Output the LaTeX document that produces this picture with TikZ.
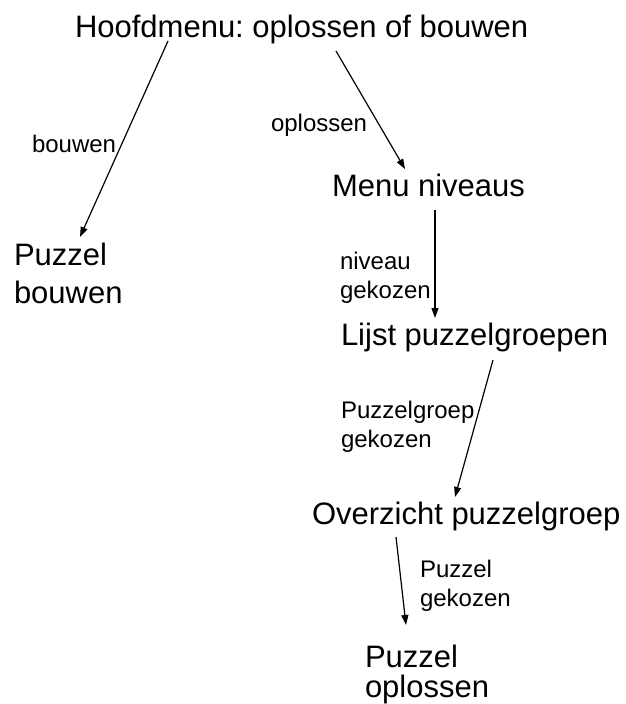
\documentclass[tikz,border=0pt]{standalone}
\usepackage{fontspec}
\setmainfont{Liberation Sans}
\usetikzlibrary{arrows.meta}
\begin{document}
\frenchspacing
\begin{tikzpicture}[x=1pt,y=-1pt,
  state/.style={inner sep=0pt,outer sep=0pt,font=\fontsize{31}{38}\selectfont,align=left},
  lbl/.style={inner sep=0pt,outer sep=0pt,font=\fontsize{24}{29}\selectfont,align=left},
  arr/.style={draw=black,line width=1.2pt,-{Triangle[length=10pt,width=7pt]}}]
\useasboundingbox[fill=white] (0,0) rectangle (625,704);
% states
\node[state,anchor=base west] (hm) at (75,37) {Hoofdmenu: oplossen of bouwen};
\node[state,anchor=north west] (pb) at (14,243) {Puzzel\\bouwen};
\node[state,anchor=base west] (mn) at (332,196) {Menu niveaus};
\node[state,anchor=base west] (lp) at (341,345) {Lijst puzzelgroepen};
\node[state,anchor=base west] (op) at (312,524) {Overzicht puzzelgroep};
\node[state,anchor=north west,font=\fontsize{31}{30.5}\selectfont] (po) at (365,645) {Puzzel\\oplossen};
% labels
\node[lbl,anchor=base west] (lb1) at (32,152) {bouwen};
\node[lbl,anchor=base west] (lb2) at (271,131) {oplossen};
\node[lbl,anchor=north west] (lb3) at (340,252) {niveau\\gekozen};
\node[lbl,anchor=north west] (lb4) at (341,401) {Puzzelgroep\\gekozen};
\node[lbl,anchor=north west] (lb5) at (420,560) {Puzzel\\gekozen};
% connectors
\draw[arr] ([shift={(93,4)}]hm.base west) -- ([shift={(66,-6)}]pb.north west);
\draw[arr] ([shift={(261,14)}]hm.base west) -- ([shift={(73,-27)}]mn.base west);
\draw[arr] ([shift={(103,14)}]mn.base west) -- ([shift={(94,-27)}]lp.base west);
\draw[arr] ([shift={(152,15)}]lp.base west) -- ([shift={(143,-27)}]op.base west);
\draw[arr] ([shift={(84,13)}]op.base west) -- ([shift={(41,-20)}]po.north west);
\end{tikzpicture}
\end{document}
